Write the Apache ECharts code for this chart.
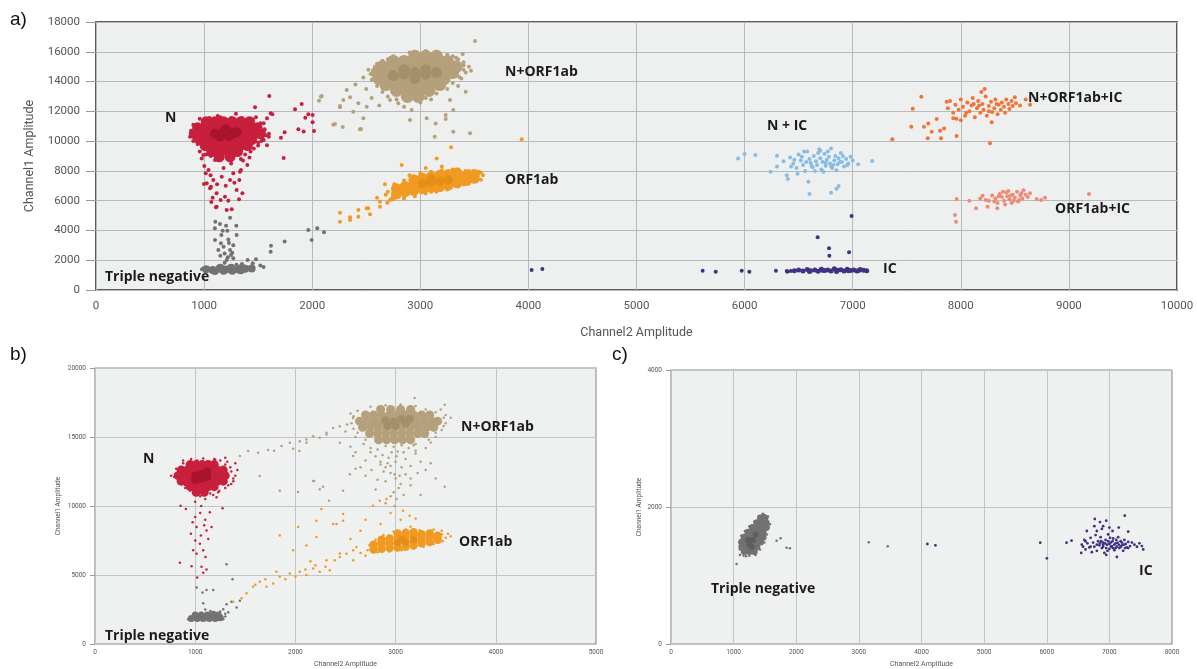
<!DOCTYPE html>
<html>
<head>
<meta charset="utf-8">
<script src="https://cdn.jsdelivr.net/npm/echarts@6/dist/echarts.min.js"></script>
<style>
html,body{margin:0;padding:0;background:#fff;}
#chart{width:1197px;height:669px;}
</style>
</head>
<body>
<div id="chart"></div>
<script>
// ---------- Panel a data ----------
const aNegCore = [[1020,1400],[1080,1350],[1140,1420],[1200,1380],[1260,1400],[1320,1380],[1380,1420],[1440,1450],[1100,1280],[1180,1300],[1260,1300],[1340,1320],[1150,1500],[1250,1500],[1350,1500]];
const aNeg = [[1240,4860],[1104,4590],[1147,4440],[1203,4320],[1298,4320],[1172,3980],[1215,3980],[1301,3690],[1101,3360],[1156,3140],[1224,3400],[1132,2690],[1240,2690],[1249,2350],[1209,2010],[1270,2130],[1190,1830],[1403,2010],[1480,2060],[1619,2980],[1616,2570],[1745,3250],[1964,4030],[2047,4140],[2109,3880],[1995,3360],[1180,2900],[1260,2500],[1230,3150],[1150,2300],[1190,2450],[1160,3700],[1300,1700],[1350,1750],[1450,1800],[1520,1650],[1550,1550],[980,1400],[1000,1480],[1100,4150],[1270,3000],[1220,2200]];
const aNCore = [[1020,11300],[1100,11300],[1180,11300],[1260,11300],[1340,11300],[1420,11300],
 [940,10900],[1020,10900],[1100,10900],[1180,10900],[1260,10900],[1340,10900],[1420,10900],[1490,10900],
 [910,10500],[990,10500],[1070,10500],[1150,10500],[1230,10500],[1310,10500],[1390,10500],[1470,10500],[1520,10500],
 [960,10100],[1040,10100],[1120,10100],[1200,10100],[1280,10100],[1360,10100],[1440,10100],
 [1010,9700],[1090,9700],[1170,9700],[1250,9700],[1330,9700],[1400,9700],
 [1070,9300],[1150,9300],[1230,9300],[1310,9300],
 [1140,8950],[1240,8950]];
const aNInner = [[1100,10500],[1180,10600],[1260,10500],[1150,10300],[1230,10350],[1300,10600],[1200,10800]];
const aN = [[1603,13030],[1471,12270],[1841,12135],[1903,12490],[1616,11865],[1631,11800],[1582,11530],[1551,11195],[1936,11570],[1964,11800],[2004,11750],[2004,11260],[1872,10790],[1921,10640],[2017,10680],[1745,10590],[1711,10230],[1598,10300],[1582,9720],[1736,8870],[1551,10630],[1551,10080],[1517,10970],[1295,11840],[1126,11690],[891,10480],
 [880,10700],[870,10300],[900,11100],[960,11500],[1050,11550],[1150,11600],[1250,11550],[1350,11550],[1450,11450],[1520,11200],[1560,10800],[1570,10400],[1540,10200],[1500,9900],[1460,9500],[1380,9100],[1340,8800],[1060,9000],[1000,9500],[940,9800],[900,10000],[1600,10500],[1480,11600],[1020,9100],
 [1172,9400],[978,8840],[1002,8330],[1041,8060],[1024,7165],[1055,6830],[1116,6490],[1193,6270],[1153,6040],[1224,5990],[1116,5590],[1209,5370],[1255,5420],[1079,6200],[1301,6720],[1326,7390],[1341,8060],[1270,7840],[1240,7390],[1163,7610],[1085,7390],[993,9070],[1101,8730],[999,7120],[1015,7840],[1064,6940],[1067,5910],[1110,5550],[1323,6090],[1354,6490],[1332,7950],[1400,8400],[1420,8900],[1360,8700],[1060,7700],[1120,7100],[1200,7000],[1280,7200],[1180,8200],[1250,8500],[960,9300],[1430,9300],[1500,9700],[1530,10000]];
const aNORF1abCore = [[2950,15700],[3050,15700],[3150,15700],
 [2750,15350],[2850,15350],[2950,15350],[3050,15350],[3150,15350],[3250,15350],
 [2650,15000],[2750,15000],[2850,15000],[2950,15000],[3050,15000],[3150,15000],[3250,15000],[3330,15000],
 [2600,14600],[2700,14600],[2800,14600],[2900,14600],[3000,14600],[3100,14600],[3200,14600],[3300,14600],
 [2620,14200],[2720,14200],[2820,14200],[2920,14200],[3020,14200],[3120,14200],[3220,14200],
 [2680,13800],[2780,13800],[2880,13800],[2980,13800],[3080,13800],[3180,13800],
 [2780,13400],[2880,13400],[2980,13400],[3080,13400],
 [2880,13000],[2980,13000]];
const aNORF1abInner = [[2850,14500],[2950,14600],[3050,14500],[2950,14200],[3050,14800],[2850,14800],[3150,14600],[2750,14400]];
const aNORF1ab = [[3506,16720],[3392,15850],[3469,14730],[3420,13320],[3460,10520],[3305,10630],[3133,10300],[3142,11190],[3235,11480],[3059,11530],[2905,11420],[2920,12090],[2797,12540],[2720,12760],[2451,10810],[2282,10950],[2195,11100],[2257,12270],[2088,13030],[2063,12710],[2380,11980],[2473,11530],[2319,13430],[2473,14280],[2551,14130],[2350,12940],[2427,12540],[2504,12310],[3275,12760],[3305,12090],[3235,11760],[2257,12360],[2288,12760],[2211,11150],[2442,10790],[2081,12980],[2400,13800],[2500,13500],[2550,12900],[2620,12400],[3350,15500],[3400,15100],[3300,15700],[2700,15500],[3200,15600],[2600,15200],[3000,12600],[3100,12800],[2850,12300],[3380,14200],[3420,14600],
 [2540,14500],[2560,14100],[2600,13700],[2650,13300],[2700,13000],[2780,12800],[2900,12750],[3050,12900],[3150,13200],[3250,13500],[3300,13900],[3360,14300],[3400,14800],[3400,15300],[3330,15600],[3250,15800],[3150,16000],[3050,16050],[2900,15950],[2750,15700],[2650,15400],[2580,15000],[2520,14800],[3450,15000],[3350,13700]];
const aORF1abCore = [[2780,6450],[2780,6800],[2860,6600],[2860,6950],[2940,6700],[2940,7050],[2940,7400],[3020,6800],[3020,7150],[3020,7500],[3100,6900],[3100,7250],[3100,7600],[3180,6950],[3180,7300],[3180,7700],[3260,7050],[3260,7400],[3260,7750],[3340,7200],[3340,7500],[3340,7850],[3420,7350],[3420,7650],[3500,7500],[3500,7750]];
const aORF1abInner = [[3020,7150],[3100,7250],[3180,7300],[3260,7400],[3100,7450]];
const aORF1ab = [[3938,10120],[3284,9580],[3152,8840],[2828,8400],[2673,7100],[2627,5930],[2695,5860],[2519,5490],[2427,5370],[2257,5190],[2350,4880],[2257,4590],[2350,4700],[2427,4920],[2504,5490],[2535,5080],[2627,5590],[2720,6040],[2750,6100],[2600,6200],[2680,6400],[3050,8200],[3200,8300],[3350,8100],[3450,8000],[3560,7900],[3500,7300],[3400,7100],[2950,6300],[3100,6600],[2850,6150],
 [2740,6200],[2700,6600],[2760,7100],[2850,7350],[2900,7700],[3000,7850],[3100,7950],[3200,8050],[3300,8100],[3420,8000],[3540,7950],[3580,7700],[3560,7400],[3450,7150],[3350,6950],[3250,6750],[3150,6600],[3050,6500],[2850,6250]];
const aNIC = [[6420,8900],[6450,8500],[6480,8200],[6500,9100],[6520,8700],[6540,8400],[6560,8000],[6580,9300],[6600,8800],[6610,8550],[6630,8250],[6640,9000],[6660,8650],[6670,8400],[6690,9450],[6700,8850],[6710,8100],[6720,8600],[6740,9150],[6750,8350],[6760,8750],[6780,8950],[6790,8500],[6800,9500],[6810,8200],[6830,8700],[6840,9000],[6860,8450],[6870,8850],[6890,9200],[6900,8600],[6920,8300],[6940,8800],[6960,8500],[6980,8950],[7000,8700],[6460,8750],[6530,8950],[6570,8600],[6620,8350],[6680,9200],[6730,7950],[6770,9300],[6820,8400],[6850,8050],[6880,8600],[6910,9000],[6430,8300],[6490,7800],[6550,9300],[6650,8000],[6700,9350],[6750,8550],[6800,8300],[6950,8400],
 [5940,8840],[6000,9130],[6100,9070],[6240,7950],[6300,8300],[6300,9020],[6400,7460],[6590,7270],[6600,6450],[6800,6530],[6870,6980],[6850,6800],[7050,8440],[7180,8660],[6360,8650],[6390,7700]];
const aNORF1abIC = [[7880,12200],[7900,12700],[7930,11900],[7950,12450],[7980,12100],[8000,12800],[8020,12300],[8040,11700],[8060,12600],[8080,12000],[8100,12400],[8110,12900],[8130,11600],[8150,12200],[8160,12700],[8180,11900],[8200,12500],[8210,12100],[8230,13000],[8240,11700],[8260,12350],[8280,12650],[8290,11950],[8310,12200],[8320,12800],[8340,11800],[8350,12450],[8370,12100],[8380,12600],[8400,12300],[8410,11900],[8420,12800],[8440,12500],[8450,12150],[8470,12700],[8480,12350],[8500,12950],[8510,12550],[8190,13300],[8220,13500],[8050,11900],[8120,12500],[8260,12000],[8330,12500],[8170,12400],[7960,11500],[8000,11400],
 [7635,12980],[7555,12180],[7542,10970],[7366,10120],[7659,10970],[7699,11190],[7777,11480],[7731,10630],[7694,10190],[7817,10190],[7808,10700],[7962,10340],[7846,10850],[8270,9850],[8548,12400],[8600,12800],[8640,12450],[7869,12650],[7931,11530],[8286,11260]];
const aORF1abIC = [[8260,6000],[8290,6350],[8320,6150],[8340,5850],[8360,6450],[8380,6250],[8400,6000],[8420,6550],[8430,6300],[8450,6100],[8470,5850],[8480,6400],[8500,6200],[8520,6600],[8530,5950],[8550,6350],[8570,6150],[8580,6700],[8600,6400],[8620,6250],[8640,6500],[8310,5950],[8440,6650],[8490,6000],[8560,6500],[8350,6300],[8410,5750],[8540,6050],[8460,6350],[8390,6600],
 [7962,6110],[7946,5040],[7956,4590],[8079,6000],[8141,5490],[8202,6330],[8248,5590],[8338,5490],[8702,6110],[8743,6040],[8779,6200],[9186,6450],[8180,6150],[8230,6050]];
const aICCore = [[6460,1300],[6500,1350],[6540,1280],[6580,1380],[6610,1300],[6650,1340],[6680,1260],[6710,1400],[6740,1310],[6770,1350],[6800,1270],[6830,1420],[6860,1320],[6890,1360],[6920,1280],[6950,1390],[6980,1310],[7010,1350],[7040,1270],[7070,1380],[7100,1320],[7130,1300],[6600,1250],[6720,1330],[6850,1250],[6960,1300],[7060,1330]];
const aIC = [[4030,1340],[4129,1410],[5612,1300],[5733,1230],[5973,1300],[6044,1230],[6290,1300],[6395,1230],[6426,1280],[6390,1280],[6990,4970],[6676,3540],[6781,2800],[6784,2300],[6966,2530]];

// ---------- Panel b data ----------
const bNegCore = [[960,1850],[1020,1850],[1080,1850],[1140,1850],[1200,1850],[1250,1900],[1000,2100],[1060,2100],[1120,2100],[1180,2150],[1230,2100]];
const bNeg = [[1073,3740],[1113,3910],[1180,3910],[1014,4100],[1313,5780],[1373,4700],[1363,3070],[1313,2880],[1280,2520],[1330,2300],[1413,2640],[1446,3140],[1080,2950],[1100,2500],[1150,2400],[1250,2350],[1300,2200],[930,1800],[1280,1800],[1300,2000]];
const bNCore = [[950,13000],[1010,13000],[1070,13000],[1130,13000],[1190,13000],
 [860,12600],[920,12600],[980,12600],[1040,12600],[1100,12600],[1160,12600],[1220,12600],[1280,12600],
 [830,12200],[890,12200],[950,12200],[1010,12200],[1070,12200],[1130,12200],[1190,12200],[1250,12200],[1300,12200],
 [860,11800],[920,11800],[980,11800],[1040,11800],[1100,11800],[1160,11800],[1220,11800],[1280,11800],
 [950,11400],[1010,11400],[1070,11400],[1130,11400],[1190,11400],
 [1010,11000],[1090,11000]];
const bNInner = [[1000,12200],[1060,12300],[1120,12100],[1060,12000],[1000,11900],[1120,12500]];
const bN = [[800,12300],[830,12500],[880,13100],[1250,13300],[1300,13000],[1350,12800],[1400,12200],[1380,11800],[1330,11500],[870,11600],[900,11300],[1300,13500],[1190,13400],[1020,13300],[950,11100],[1050,10700],[1100,10500],[1150,10900],[1230,11000],
 [790,12100],[810,12700],[880,13300],[960,13400],[1080,13450],[1200,13350],[1320,13200],[1360,12500],[1380,12000],[1360,11600],[1300,11300],[1240,11100],[1180,10800],[900,11500],[850,11900],[1420,12600],[1400,13100],[760,12200],
 [854,10020],[907,9780],[974,8830],[1014,8470],[1057,7860],[1113,8220],[957,7990],[1047,7270],[1080,6790],[980,6790],[1103,6310],[1063,5590],[1113,5400],[1080,5160],[1020,4820],[847,5880],[1163,8470],[1146,9550],[1213,10630],[1273,9830],[964,5630],[1014,6540],[1000,9200],[1050,9500],[1100,9000],[1000,10300],[1060,10000],[1130,7600],[1000,7500],[1090,8600]];
const bNORF1abCore = [[2850,17000],[2950,17000],[3050,17000],[3150,17000],
 [2700,16600],[2780,16600],[2860,16600],[2940,16600],[3020,16600],[3100,16600],[3180,16600],[3260,16600],[3340,16600],
 [2640,16150],[2720,16150],[2800,16150],[2880,16150],[2960,16150],[3040,16150],[3120,16150],[3200,16150],[3280,16150],[3360,16150],[3420,16150],
 [2670,15700],[2750,15700],[2830,15700],[2910,15700],[2990,15700],[3070,15700],[3150,15700],[3230,15700],[3310,15700],[3380,15700],
 [2740,15250],[2820,15250],[2900,15250],[2980,15250],[3060,15250],[3140,15250],[3220,15250],[3290,15250],
 [2830,14800],[2910,14800],[2990,14800],[3070,14800],[3150,14800]];
const bNORF1abInner = [[2900,16200],[2980,16100],[3060,16300],[3000,15800],[3100,16000],[2920,15800],[3140,16300]];
const bNORF1ab = [[1446,13620],[1528,13980],[1628,13860],[1728,14050],[1788,14000],[1861,14340],[1944,14580],[1978,14140],[2044,14700],[2110,14820],[2177,15060],[2243,14940],[2310,15180],[2443,15780],[2516,15900],[2575,16380],[2040,13990],[1844,11100],[1645,12180],[2186,11820],[2276,11390],[2336,10380],[2476,11100],[2026,11010],
 [2900,14350],[2980,14300],[3060,14400],[2960,13900],[3020,13950],
 [2560,16000],[2580,16500],[2620,16900],[2750,17200],[2900,17300],[3050,17350],[3200,17250],[3300,17000],[3400,16800],[3480,16400],[3500,16000],[3460,15500],[3400,15000],[3330,14800],[3200,14500],[2700,14800],[2620,15300],[2580,15600],
 [2750,13900],[2820,14100],[2870,13700],[2930,13500],[3010,13600],[3080,13900],[3130,14200],[3180,14400],[2680,14500],[2850,13000],[2920,13100],[3000,13200],[3060,12800],[2950,12900],[2990,12300],[3040,12200],[2880,12500],[3150,12000],[3220,12400],[2760,12600],[2820,11900],[3030,11300],[2950,10700],[3080,10800],[2900,10200],[2600,12700],[3350,13100],[3400,12000],[3250,10800],[3200,14000],
 [2750,14200],[2800,13600],[2850,13200],[2900,12800],[2950,12400],[3000,12000],[3050,11600],[2980,11000],[3010,10500],[2990,10000],[2700,13300],[2650,12800],[3100,13400],[3150,12900],[3200,13800],[3250,13200],[2600,13900],[2550,14300],[2700,12200],[3100,12300],[3300,12600],[2900,11800],[3150,11500],[2800,11200],[3490,11390],[3490,17340],[3190,17820],[2243,11220],[2177,11820],[2543,12300],[2576,13620],[2376,15660],[2310,15300],[2443,14580],[2110,14580],[3500,16600],[3550,16400],[3450,17000],[3400,15300],[3480,15800],[2550,16700],[2600,15000],[2500,15400],[3350,14600],[3300,14200]];
const bORF1abCore = [[2780,6850],[2780,7200],[2860,6900],[2860,7250],[2860,7550],[2940,6950],[2940,7300],[2940,7650],[3020,7000],[3020,7350],[3020,7700],[3020,8000],[3100,7050],[3100,7400],[3100,7750],[3100,8050],[3180,7150],[3180,7500],[3180,7850],[3180,8100],[3260,7300],[3260,7650],[3260,7950],[3340,7400],[3340,7750],[3340,8000],[3420,7550],[3420,7850]];
const bORF1abInner = [[3020,7350],[3100,7400],[3180,7550],[3060,7600]];
const bORF1ab = [[1811,5230],[1844,4880],[1944,5110],[2044,5230],[2110,5000],[2177,5470],[2243,5230],[1645,4510],[1578,4150],[1512,3670],[1463,3310],[1380,3070],[1712,4150],[1778,4390],[1977,6790],[1844,7860],[2027,8470],[2210,7750],[2260,9780],[2410,8700],[2476,9420],[2393,6060],[2343,5350],[2443,6310],[2509,6540],[2576,6790],[3523,7990],[3074,9660],[3140,9300],[2842,10380],[2909,10500],[2775,10020],[2476,8940],[2376,8700],[2210,8940],[2110,7140],[2310,6060],[2443,6550],[2609,7030],[2576,6060],[1900,4700],[2000,4900],[2100,5400],[2200,5700],[2300,5600],[2650,6600],[2700,6400],[1700,4700],[1600,4300],[2150,6000],[2550,7600],[2650,8200],[2700,9000],[2950,9500],[3050,9000],[3200,9100],[3150,8500],[2850,8700],[3460,8200],[3380,8300],
 [2720,6800],[2740,7150],[2800,7550],[2880,7900],[2980,8150],[3100,8300],[3240,8250],[3360,8200],[3460,7950],[3500,7700],[3470,7450],[3380,7250],[3280,7050],[3180,6900],[3060,6800],[2940,6700],[2820,6650],[3550,7800]];

// ---------- Panel c data ----------
const cNegCore = [[1170,1350],[1250,1350],[1330,1350],
 [1130,1420],[1210,1420],[1290,1420],[1370,1420],
 [1130,1490],[1210,1490],[1290,1490],[1370,1490],[1430,1490],
 [1170,1560],[1250,1560],[1330,1560],[1410,1560],[1470,1560],
 [1230,1630],[1310,1630],[1390,1630],[1470,1630],
 [1300,1700],[1380,1700],[1460,1700],[1520,1700],
 [1370,1770],[1450,1770],[1520,1770],
 [1430,1840],[1500,1840]];
const cNegInner = [[1250,1450],[1310,1520],[1290,1420],[1350,1600],[1230,1520]];
const cNeg = [[1048,1168],[1686,1508],[1750,1543],[1845,1406],[1898,1397],[3158,1485],[3461,1426],[1550,1860],[1580,1750],[1500,1880],[1200,1280],[1470,1900],[1100,1300],
 [1100,1380],[1090,1480],[1120,1580],[1180,1650],[1250,1720],[1330,1790],[1400,1870],[1460,1890],[1530,1830],[1560,1700],[1530,1600],[1490,1480],[1420,1380],[1350,1300],[1250,1290],[1160,1290]];
const cIC = [[6560,1450],[6600,1520],[6620,1380],[6650,1470],[6680,1410],[6700,1550],[6720,1340],[6740,1480],[6760,1420],[6780,1590],[6800,1360],[6820,1500],[6840,1440],[6860,1560],[6880,1400],[6900,1480],[6920,1330],[6940,1520],[6960,1450],[6980,1600],[7000,1390],[7020,1480],[7040,1430],[7060,1540],[7080,1370],[7100,1470],[7120,1420],[7140,1560],[7160,1400],[7180,1500],[7200,1440],[7220,1360],[7240,1520],[7260,1460],[7280,1410],[7300,1490],[7330,1430],[7360,1480],[7400,1450],[7440,1420],[7480,1470],[7520,1430],[6850,1470],[6950,1400],[7050,1500],[7150,1450],[6900,1420],[7000,1460],[7100,1400],[6800,1450],[6700,1420],[7200,1480],[7300,1400],[6620,1500],[6580,1420],
 [6900,1450],[6980,1500],[7030,1420],[7080,1450],[7130,1480],[6930,1470],[7060,1400],[7110,1520],[6870,1500],[7180,1420],[7230,1450],[6970,1360],[7010,1550],[7250,1400],
 [4094,1460],[4222,1441],[5896,1479],[6002,1251],[6316,1479],[6396,1508],[6767,1825],[7246,1873],[6850,1780],[6900,1720],[6950,1800],[6880,1680],[7000,1700],[7050,1650],[6800,1650],[7150,1700],[7300,1640],[6550,1330],[7120,1270],[6950,1300],[7540,1380],[6640,1650],[6760,1720]];

// ---------- Axis ranges / ticks ----------
const aXTicks = {min:0, max:10000, interval:1000};
const aYTicks = {min:0, max:18000, interval:2000};
const bXTicks = {min:0, max:5000, interval:1000};
const bYTicks = {min:0, max:20000, interval:5000};
const cXTicks = {min:0, max:8000, interval:1000};
const cYTicks = {min:0, max:4000, interval:2000};

const C = {
  neg:'#727272', negDark:'#5e5e5e',
  n:'#c81f3d', nDark:'#a8142e',
  tan:'#b4a17b', tanDark:'#a38f69',
  orf:'#f09a22', orfDark:'#e58d14',
  blue:'#86bde6', orRed:'#f47331', salmon:'#f08a76', ic:'#3f3280'
};

function sc(data, idx, color, size, z){
  return {type:'scatter', data:data, xAxisIndex:idx, yAxisIndex:idx, symbol:'circle',
    symbolSize:size, itemStyle:{color:color, opacity:1, borderWidth:0}, z:z||2, silent:true, animation:false};
}

const tickFont = 'Roboto';
const plain = v => String(v);
function xAx(t, idx, big){
  return Object.assign({type:'value', gridIndex:idx, name:'Channel2 Amplitude', nameLocation:'middle',
    nameGap: big?36:17, nameTextStyle:{color:'#555', fontSize: big?12.5:7, fontFamily:tickFont},
    axisLine:{show:false}, axisTick:{show:false},
    axisLabel:{color:'#555', fontSize: big?11.5:6.5, fontFamily:tickFont, margin: big?10:5, formatter:plain},
    splitLine:{show:true, lineStyle:{color: big?'#b6babd':'#c2c5c8', width:1}}}, t);
}
function yAx(t, idx, big, gap){
  return Object.assign({type:'value', gridIndex:idx, name:'Channel1 Amplitude', nameLocation:'middle',
    nameGap: gap, nameRotate:90, nameTextStyle:{color:'#555', fontSize: big?12.5:6.5, fontFamily:tickFont},
    axisLine:{show:false}, axisTick:{show:true, length: big?10:5, lineStyle:{color:'#9a9a9a'}},
    axisLabel:{color:'#555', fontSize: big?11.5:6.5, fontFamily:tickFont, margin: big?16:9, formatter:plain},
    splitLine:{show:true, lineStyle:{color: big?'#b6babd':'#c2c5c8', width:1}}}, t);
}

const lblFont = 'bold 14px "Open Sans"';
function lbl(text, x, y){
  return {type:'text', x:x, y:y, silent:true, z:100,
    style:{text:text, font:lblFont, fill:'#1b1b1b', verticalAlign:'middle', textVerticalAlign:'middle'}};
}
function panelLetter(text, x, y){
  return {type:'text', x:x, y:y, silent:true, z:100,
    style:{text:text, font:'19px "Liberation Sans"', fill:'#111', verticalAlign:'middle', textVerticalAlign:'middle'}};
}

const option = {
  backgroundColor:'#ffffff',
  animation:false,
  grid:[
    {left:96, top:22, width:1081, height:268, show:true, backgroundColor:'#eef0f0', borderColor:'#5a5a5a', borderWidth:2},
    {left:95, top:368, width:501, height:278, show:true, backgroundColor:'#eff1f1', borderColor:'#8c8c8c', borderWidth:1.2},
    {left:671, top:370, width:501, height:274, show:true, backgroundColor:'#eff1f1', borderColor:'#8c8c8c', borderWidth:1.2}
  ],
  xAxis:[ xAx(aXTicks,0,true), xAx(bXTicks,1,false), xAx(cXTicks,2,false) ],
  yAxis:[ yAx(aYTicks,0,true,56), yAx(bYTicks,1,false,33), yAx(cYTicks,2,false,28) ],
  series:[
    sc(aNeg,0,C.neg,4), sc(aNegCore,0,C.neg,8,3),
    sc(aN,0,C.n,4), sc(aNCore,0,C.n,11,3), sc(aNInner,0,C.nDark,10,4),
    sc(aNORF1ab,0,C.tan,4), sc(aNORF1abCore,0,C.tan,13,3), sc(aNORF1abInner,0,C.tanDark,11,4),
    sc(aORF1ab,0,C.orf,4), sc(aORF1abCore,0,C.orf,11,3), sc(aORF1abInner,0,C.orfDark,9,4),
    sc(aNIC,0,C.blue,4), sc(aNORF1abIC,0,C.orRed,4), sc(aORF1abIC,0,C.salmon,4),
    sc(aIC,0,C.ic,4), sc(aICCore,0,C.ic,5,3),
    sc(bNeg,1,C.neg,2.5), sc(bNegCore,1,C.neg,7,3),
    sc(bN,1,C.n,2.5), sc(bNCore,1,C.n,9,3), sc(bNInner,1,C.nDark,8,4),
    sc(bNORF1ab,1,C.tan,2.5), sc(bNORF1abCore,1,C.tan,9,3), sc(bNORF1abInner,1,C.tanDark,8,4),
    sc(bORF1ab,1,C.orf,2.5), sc(bORF1abCore,1,C.orf,8.5,3), sc(bORF1abInner,1,C.orfDark,7,4),
    sc(cNeg,2,C.neg,2.5), sc(cNegCore,2,C.neg,7,3), sc(cNegInner,2,C.negDark,6,4),
    sc(cIC,2,C.ic,2.8)
  ],
  graphic:[
    panelLetter('a)',10,20), panelLetter('b)',10,355), panelLetter('c)',612,355),
    lbl('N',165,118), lbl('Triple negative',105,277), lbl('N+ORF1ab',505,72), lbl('ORF1ab',505,180),
    lbl('N + IC',767,126), lbl('N+ORF1ab+IC',1028,98), lbl('ORF1ab+IC',1055,209), lbl('IC',883,269),
    lbl('N',143,459), lbl('Triple negative',105,636), lbl('N+ORF1ab',461,427), lbl('ORF1ab',459,542),
    lbl('Triple negative',711,589), lbl('IC',1139,571)
  ]
};

const chart = echarts.init(document.getElementById('chart'), null, {renderer:'canvas'});
chart.setOption(option);
</script>
</body>
</html>
